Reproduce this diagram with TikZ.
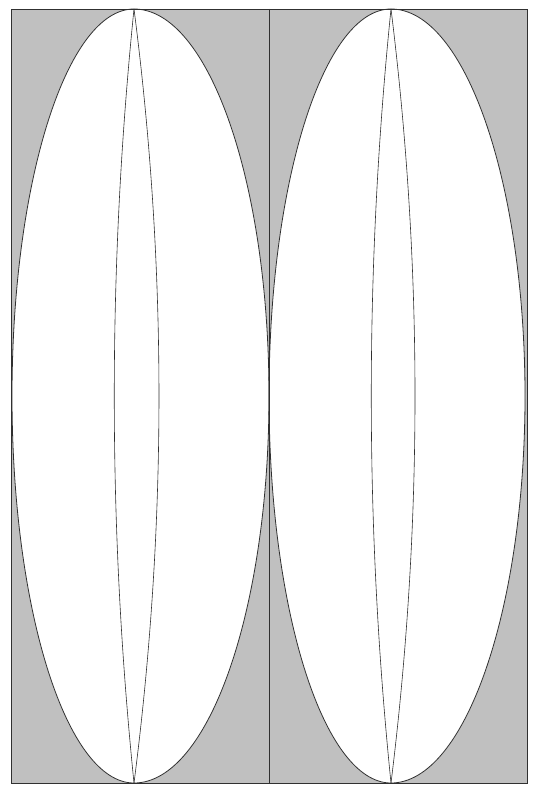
\documentclass[tikz,border=0pt]{standalone}
\definecolor{panelgray}{HTML}{C0C0C0}
\definecolor{inkline}{HTML}{303030}
\tikzset{
  ink/.style={draw=inkline, line width=0.8pt},
  lensline/.style={draw=inkline, line width=0.6pt},
}
\begin{document}
\begin{tikzpicture}[x=1pt,y=-1pt]
\useasboundingbox (0,0) rectangle (539,800);
% panels
\coordinate (pTL) at (11,9);
\coordinate (pBR) at (527,783);
\coordinate (mT) at (269,9);
\coordinate (mB) at (269,783);
\fill[panelgray] (pTL) rectangle (pBR);
% left ellipse
\coordinate (aT) at (134,9);
\coordinate (aR) at (269,396);
\coordinate (aB) at (134,783);
\coordinate (aL) at (12,396);
\path[ink, fill=white] (aT) .. controls (208.6,9) and (269,182.3) .. (aR)
  .. controls (269,609.7) and (208.6,783) .. (aB)
  .. controls (66.6,783) and (12,609.7) .. (aL)
  .. controls (12,182.3) and (66.6,9) .. (aT) -- cycle;
% right ellipse
\coordinate (bT) at (391,9);
\coordinate (bR) at (525,396);
\coordinate (bB) at (391,783);
\coordinate (bL) at (269,396);
\path[ink, fill=white] (bT) .. controls (465,9) and (525,182.3) .. (bR)
  .. controls (525,609.7) and (465,783) .. (bB)
  .. controls (323.6,783) and (269,609.7) .. (bL)
  .. controls (269,182.3) and (323.6,9) .. (bT) -- cycle;
% lenses
\draw[lensline] (aT) .. controls (107.7,267) and (107.7,525) .. (aB);
\draw[lensline] (aT) .. controls (167.3,267) and (167.3,525) .. (aB);
\draw[lensline] (bT) .. controls (364.7,267) and (364.7,525) .. (bB);
\draw[lensline] (bT) .. controls (423,267) and (423,525) .. (bB);
% frame
\draw[ink] (pTL) rectangle (pBR);
\draw[ink] (mT) -- (mB);
\end{tikzpicture}
\end{document}
